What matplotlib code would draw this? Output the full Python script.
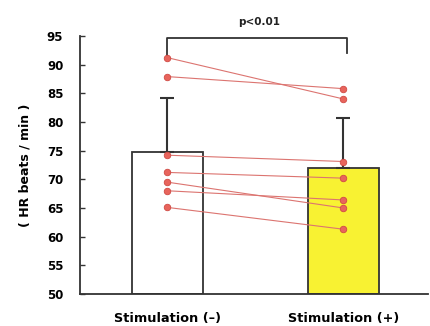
import numpy as np
import matplotlib
matplotlib.use('Agg')
import matplotlib.pyplot as plt

plt.rcParams['font.family'] = ['DejaVu Sans']

# 数据
categories = ['Stimulation (\u2013)', 'Stimulation (+)']
bar_means = [74.8, 72.0]
bar_sd = [9.4, 8.7]
bar_colors = ['white', '#f8f232']
before = [91.2, 87.9, 74.2, 71.2, 69.5, 68.0, 65.1]
after = [84.0, 85.8, 73.1, 70.2, 65.0, 66.4, 61.3]
yticks = [50, 55, 60, 65, 70, 75, 80, 85, 90, 95]

fig = plt.figure(figsize=(4.3, 3.26), dpi=100)
ax = fig.add_axes([0.186, 0.098, 0.809, 0.792])

x = np.arange(len(categories))
ax.bar(x, [m - 50 for m in bar_means], bottom=50, width=0.40,
       color=bar_colors, edgecolor='#333333', linewidth=1.3, zorder=1)
ax.errorbar(x, bar_means, yerr=[[0, 0], bar_sd], fmt='none',
            ecolor='#333333', elinewidth=1.5, capsize=4.8, capthick=1.5, zorder=2)

# 配对的个体数据
for b, a in zip(before, after):
    ax.plot(x, [b, a], color='#dc7470', linewidth=0.8, zorder=3)
ax.scatter(np.repeat(x[0], len(before)), before, s=22, color='#e8645c',
           edgecolor='#d04a44', linewidth=0.6, zorder=4)
ax.scatter(np.repeat(x[1], len(after)), after, s=22, color='#e8645c',
           edgecolor='#d04a44', linewidth=0.6, zorder=4)

# 显著性标记
ax.plot([0, 0, 1.02, 1.02], [before[0], 94.65, 94.65, 92.0],
        color='#333333', linewidth=1.3, zorder=2, clip_on=False)
ax.text(0.52, 97.5, 'p<0.01', ha='center', va='center',
        fontsize=7.5, fontweight='bold', color='#222222')

ax.set_xlim(-0.497, 1.48)
ax.set_ylim(50, 95)
ax.set_yticks(yticks)
ax.set_yticklabels([str(t) for t in yticks], fontsize=8.5, fontweight='bold')
ax.tick_params(axis='y', direction='in', length=3.5, width=1.0,
               color='#333333', pad=12)
ax.set_xticks(x)
ax.set_xticklabels(categories, fontsize=9.3, fontweight='bold')
ax.tick_params(axis='x', length=0, pad=13)
for s in ['top', 'right']:
    ax.spines[s].set_visible(False)
for s in ['left', 'bottom']:
    ax.spines[s].set_color('#333333')
    ax.spines[s].set_linewidth(1.3)

ax.set_ylabel('( HR beats / min )', fontsize=9, fontweight='bold')
ax.yaxis.set_label_coords(-0.14, 0.5)

fig.savefig('out.png', dpi=100)
